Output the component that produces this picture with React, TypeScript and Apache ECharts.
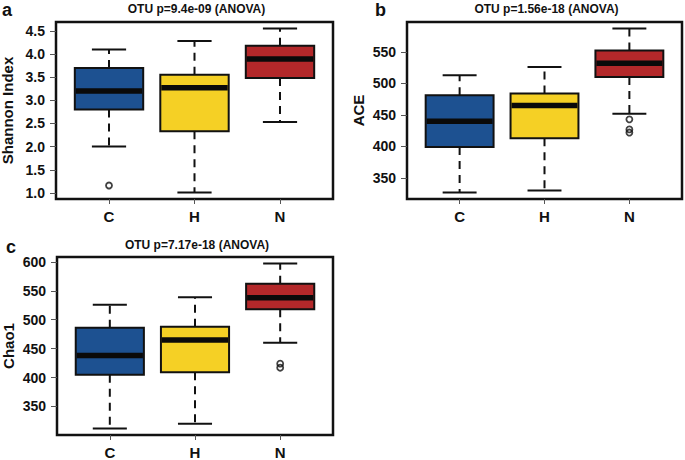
import React, { useEffect, useRef } from "react";
import * as echarts from "echarts";

const categories = ["C", "H", "N"];
const boxColors = ["#1d5191", "#f5d025", "#b3282a"];

// [lower whisker, Q1, median, Q3, upper whisker]
const shannonStats = [
  [2.0, 2.8, 3.2, 3.7, 4.1],
  [1.01, 2.33, 3.27, 3.55, 4.28],
  [2.53, 3.48, 3.89, 4.18, 4.55],
];
const shannonOutliers = [[1.16], [], []];
const shannonTicks = [1.0, 1.5, 2.0, 2.5, 3.0, 3.5, 4.0, 4.5];

const aceStats = [
  [327, 399, 440, 481, 513],
  [330, 413, 465, 484, 526],
  [452, 510, 532, 552, 587],
];
const aceOutliers = [[], [], [443, 427, 422]];
const aceTicks = [350, 400, 450, 500, 550];

const chao1Stats = [
  [312, 405, 438, 486, 526],
  [320, 409, 465, 488, 539],
  [460, 518, 538, 562, 597],
];
const chao1Outliers = [[], [], [424, 417]];
const chao1Ticks = [350, 400, 450, 500, 550, 600];

const panelTitles = [
  "OTU p=9.4e-09 (ANOVA)",
  "OTU p=1.56e-18 (ANOVA)",
  "OTU p=7.17e-18 (ANOVA)",
];
const panelLetters = ["a", "b", "c"];
const yNames = ["Shannon Index", "ACE", "Chao1"];

const FONT = "'Liberation Sans', Arial, Helvetica, sans-serif";

function extent(stats: number[][], outs: number[][]) {
  const all: number[] = [];
  stats.forEach((s) => all.push(s[0], s[4]));
  outs.forEach((o) => o.forEach((v) => all.push(v)));
  const lo = Math.min(...all);
  const hi = Math.max(...all);
  const pad = (hi - lo) * 0.04;
  return [lo - pad, hi + pad];
}

export default function App() {
  const ref = useRef<HTMLDivElement>(null);
  useEffect(() => {
    if (!ref.current) return;
    const chart = echarts.init(ref.current, null, { renderer: "svg" });

    const grids = [
      { left: 56, top: 22, width: 277, height: 177 },
      { left: 407, top: 22, width: 275, height: 177 },
      { left: 57, top: 257, width: 276, height: 178 },
    ];
    const statsList = [shannonStats, aceStats, chao1Stats];
    const outList = [shannonOutliers, aceOutliers, chao1Outliers];
    const tickList = [shannonTicks, aceTicks, chao1Ticks];
    const fmt = [
      (v: number) => v.toFixed(1),
      (v: number) => String(v),
      (v: number) => String(v),
    ];

    const renderBox = (params: any, api: any) => {
      const x = api.value(0);
      const lo = api.value(1);
      const q1 = api.value(2);
      const med = api.value(3);
      const q3 = api.value(4);
      const hi = api.value(5);
      const w = api.size([0.8, 0])[0];
      const pLo = api.coord([x, lo]);
      const pQ1 = api.coord([x, q1]);
      const pMed = api.coord([x, med]);
      const pQ3 = api.coord([x, q3]);
      const pHi = api.coord([x, hi]);
      const cx = pMed[0];
      const cap = w / 4;
      const color = boxColors[params.dataIndex];
      const lineStyle = { stroke: "#111", lineWidth: 2 };
      return {
        type: "group",
        children: [
          {
            type: "line",
            shape: { x1: cx, y1: pQ3[1], x2: cx, y2: pHi[1] },
            style: { ...lineStyle, lineDash: [8, 6] },
          },
          {
            type: "line",
            shape: { x1: cx, y1: pQ1[1], x2: cx, y2: pLo[1] },
            style: { ...lineStyle, lineDash: [8, 6] },
          },
          {
            type: "line",
            shape: { x1: cx - cap, y1: pHi[1], x2: cx + cap, y2: pHi[1] },
            style: lineStyle,
          },
          {
            type: "line",
            shape: { x1: cx - cap, y1: pLo[1], x2: cx + cap, y2: pLo[1] },
            style: lineStyle,
          },
          {
            type: "rect",
            shape: { x: cx - w / 2, y: pQ3[1], width: w, height: pQ1[1] - pQ3[1] },
            style: { fill: color, stroke: "#111", lineWidth: 2 },
          },
          {
            type: "line",
            shape: { x1: cx - w / 2 + 1, y1: pMed[1], x2: cx + w / 2 - 1, y2: pMed[1] },
            style: { stroke: "#0a0a0a", lineWidth: 5.5 },
          },
        ],
      };
    };

    const xAxes: any[] = [];
    const yAxes: any[] = [];
    const series: any[] = [];
    const graphics: any[] = [];

    grids.forEach((g, i) => {
      const [ymin, ymax] = extent(statsList[i], outList[i]);
      xAxes.push({
        type: "value",
        gridIndex: i,
        min: 0.38,
        max: 3.62,
        splitLine: { show: false },
        axisLine: { show: false },
        axisTick: {
          show: true,
          inside: false,
          length: 5,
          lineStyle: { color: "#555", width: 1 },
          customValues: [1, 2, 3],
        },
        axisLabel: {
          customValues: [1, 2, 3],
          formatter: (v: number) => categories[Math.round(v) - 1] || "",
          fontFamily: FONT,
          fontWeight: "bold",
          fontSize: 15,
          color: "#111",
          margin: 10,
        },
      });
      yAxes.push({
        type: "value",
        gridIndex: i,
        min: ymin,
        max: ymax,
        name: yNames[i],
        nameLocation: "middle",
        nameGap: 41,
        nameTextStyle: {
          fontFamily: FONT,
          fontWeight: "bold",
          fontSize: 15,
          color: "#111",
        },
        splitLine: { show: false },
        axisLine: { show: false },
        axisTick: {
          show: true,
          inside: false,
          length: 6,
          lineStyle: { color: "#555", width: 1 },
          customValues: tickList[i],
        },
        axisLabel: {
          customValues: tickList[i],
          formatter: fmt[i],
          fontFamily: FONT,
          fontWeight: "bold",
          fontSize: 14,
          color: "#111",
          margin: 11,
        },
      });
      series.push({
        type: "custom",
        xAxisIndex: i,
        yAxisIndex: i,
        renderItem: renderBox,
        encode: { x: 0, y: [1, 2, 3, 4, 5] },
        data: statsList[i].map((s, k) => [k + 1, ...s]),
        z: 2,
      });
      const outData: number[][] = [];
      outList[i].forEach((arr, k) => arr.forEach((v) => outData.push([k + 1, v])));
      series.push({
        type: "scatter",
        xAxisIndex: i,
        yAxisIndex: i,
        symbol: "circle",
        symbolSize: 6,
        itemStyle: { color: "rgba(255,255,255,0)", borderColor: "#111", borderWidth: 1.8 },
        data: outData,
        z: 3,
      });
      graphics.push({
        type: "text",
        x: g.left + g.width / 2 + 2,
        y: i === 2 ? 245 : 8.5,
        style: {
          text: panelTitles[i],
          fontFamily: FONT,
          fontWeight: "bold",
          fontSize: 12,
          fill: "#111",
          align: "center",
          verticalAlign: "middle",
        },
      });
    });

    const letterPos = [
      [2, 1],
      [375, 1],
      [6, 238],
    ];
    letterPos.forEach((p, i) => {
      graphics.push({
        type: "text",
        x: p[0],
        y: p[1],
        style: {
          text: panelLetters[i],
          fontFamily: FONT,
          fontWeight: "bold",
          fontSize: 18,
          fill: "#111",
          align: "left",
          verticalAlign: "top",
        },
      });
    });

    chart.setOption({
      animation: false,
      backgroundColor: "#ffffff",
      grid: grids.map((g) => ({
        ...g,
        show: true,
        borderColor: "#111",
        borderWidth: 2.5,
        backgroundColor: "transparent",
        containLabel: false,
        outerBoundsMode: "none",
      })),
      xAxis: xAxes,
      yAxis: yAxes,
      series,
      graphic: graphics,
    });

    return () => chart.dispose();
  }, []);

  return (
    <div
      ref={ref}
      style={{ position: "absolute", left: 0, top: 0, width: 685, height: 460 }}
    />
  );
}
